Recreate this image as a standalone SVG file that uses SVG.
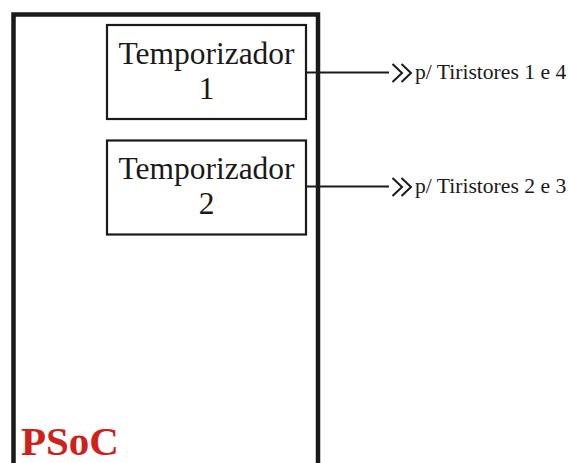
<svg xmlns="http://www.w3.org/2000/svg" width="568" height="463" viewBox="0 0 568 463">
  <style>
    .box { fill: #fff; stroke: #1a1a1a; stroke-width: 2.2; }
    .chip { fill: none; stroke: #1a1a1a; stroke-width: 4.5; }
    .wire { fill: none; stroke: #1a1a1a; stroke-width: 2; }
    .chev { fill: none; stroke: #1a1a1a; stroke-width: 2; }
    text { font-family: 'Liberation Serif', 'Times New Roman', Times, serif; }
    .t { fill: #1a1a1a; }
    .big { font-size: 31.5px; text-anchor: middle; }
    .lbl { font-size: 21.6px; }
    .psoc { font-weight: bold; font-size: 41px; fill: #d0201a; }
  </style>
  <rect width="568" height="463" fill="#fff"/>

  <!-- PSoC chip outline (continues below the bottom edge) -->
  <g id="psoc">
    <path class="chip" d="M13.5 470 V14.5 H318 V470"/>
    <text class="psoc" x="21" y="455">PSoC</text>
  </g>

  <g id="temporizador1">
    <rect class="box" x="107" y="25" width="199" height="94"/>
    <text class="t big" x="206.5" y="64">Temporizador</text>
    <text class="t big" x="206.5" y="99">1</text>
  </g>

  <g id="temporizador2">
    <rect class="box" x="107" y="140.5" width="199" height="94"/>
    <text class="t big" x="206.5" y="178.5">Temporizador</text>
    <text class="t big" x="206.5" y="213.5">2</text>
  </g>

  <g id="connectors">
    <line class="wire" x1="306" y1="72.5" x2="389" y2="72.5"/>
    <polyline class="chev" points="392.5,64 402,73 392.5,82"/>
    <polyline class="chev" points="401.5,64 411,73 401.5,82"/>
    <line class="wire" x1="306" y1="186.5" x2="389" y2="186.5"/>
    <polyline class="chev" points="392.5,178 402,187 392.5,196"/>
    <polyline class="chev" points="401.5,178 411,187 401.5,196"/>
  </g>

  <g id="outputs">
    <text class="t lbl" x="415" y="78.5">p/ Tiristores 1 e 4</text>
    <text class="t lbl" x="415" y="192.5">p/ Tiristores 2 e 3</text>
  </g>
</svg>
